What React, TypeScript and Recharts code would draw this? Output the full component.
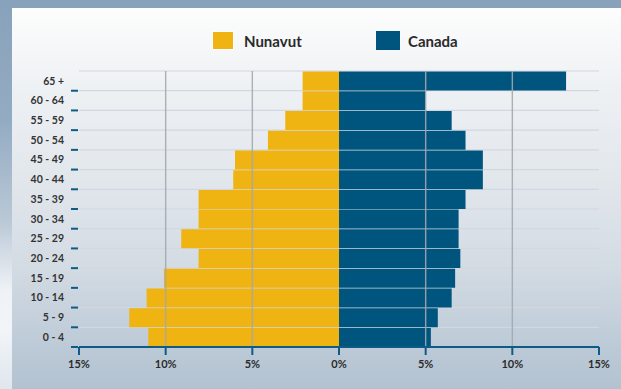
import { BarChart, Bar, XAxis, YAxis, CartesianGrid, ReferenceLine } from "recharts";

const AGE_GROUPS = [
  "65 +",
  "60 - 64",
  "55 - 59",
  "50 - 54",
  "45 - 49",
  "40 - 44",
  "35 - 39",
  "30 - 34",
  "25 - 29",
  "20 - 24",
  "15 - 19",
  "10 - 14",
  "5 - 9",
  "0 - 4",
];
// share of population, %
const NUNAVUT = [2.1, 2.1, 3.1, 4.1, 6.0, 6.1, 8.1, 8.1, 9.1, 8.1, 10.1, 11.1, 12.1, 11.0];
const CANADA = [13.1, 5.0, 6.5, 7.3, 8.3, 8.3, 7.3, 6.9, 6.9, 7.0, 6.7, 6.5, 5.7, 5.3];
const X_TICKS = [-15, -10, -5, 0, 5, 10, 15];
const GRID_X = [-10, -5, 5, 10];

const YELLOW = "#efb312";
const BLUE = "#00557f";
const AXIS_BLUE = "#0d5b86";
const FONT = "Lato, 'Open Sans', sans-serif";

const data = AGE_GROUPS.map((age, i) => ({
  age,
  nunavut: -NUNAVUT[i],
  canada: CANADA[i],
}));

function AgeTick(props: any) {
  const { x, y, payload } = props;
  const half = payload && payload.offset ? payload.offset : 9.85;
  return (
    <g>
      <text
        x={x}
        y={y}
        dy="0.35em"
        textAnchor="end"
        fontSize={10.5}
        fontWeight={700}
        fontFamily={FONT}
        fill="#333333"
      >
        {payload.value}
      </text>
      <line x1={x + 7} x2={x + 14} y1={y + half} y2={y + half} stroke={AXIS_BLUE} strokeWidth={2} />
    </g>
  );
}

// grid lines sit on the band edges, not the band centres
function bandEdges({ offset }: any) {
  const step = offset.height / AGE_GROUPS.length;
  return [...AGE_GROUPS.map((_, i) => offset.top + i * step), offset.top + offset.height];
}

export default function App() {
  return (
    <div
      style={{
        position: "absolute",
        left: 0,
        top: 0,
        width: 621,
        height: 389,
        overflow: "hidden",
        background:
          "linear-gradient(180deg, #88a2bb 0px, #93abc2 120px, #b9c8d6 220px, #eef2f6 290px, #f2f5f8 330px, #dfe6ed 389px)",
      }}
    >
      <div
        style={{
          position: "absolute",
          left: 12,
          top: 8,
          width: 621,
          height: 389,
          background:
            "linear-gradient(180deg, #fdfdfd 0px, #eef1f4 80px, #e2e7ec 170px, #d3dbe3 260px, #bccad7 340px, #b3c2d1 381px)",
        }}
      />
      <div style={{ position: "absolute", left: 212, top: 31, width: 22, height: 19, boxSizing: "border-box", border: "1.5px solid #ffffff", background: YELLOW }} />
      <div
        style={{ position: "absolute", left: 244, top: 31, height: 20, lineHeight: "20px", fontFamily: FONT, fontWeight: 700, fontSize: 15, color: "#2a2a2a" }}
      >
        Nunavut
      </div>
      <div style={{ position: "absolute", left: 376, top: 31, width: 24, height: 19, background: BLUE }} />
      <div
        style={{ position: "absolute", left: 408, top: 31, height: 20, lineHeight: "20px", fontFamily: FONT, fontWeight: 700, fontSize: 15, color: "#2a2a2a" }}
      >
        Canada
      </div>
      <div style={{ position: "absolute", left: 0, top: 0 }}>
        <BarChart
          width={621}
          height={389}
          data={data}
          layout="vertical"
          stackOffset="sign"
          barCategoryGap={0.6}
          margin={{ top: 71, right: 22, bottom: 12, left: 0 }}
        >
          <CartesianGrid
            vertical={false}
            stroke="#d2d8df"
            strokeWidth={1.2}
            horizontalCoordinatesGenerator={bandEdges}
          />
          <XAxis
            type="number"
            domain={[-15, 15]}
            ticks={X_TICKS}
            allowDataOverflow
            height={30}
            tickSize={8}
            tickMargin={5}
            axisLine={{ stroke: AXIS_BLUE, strokeWidth: 2 }}
            tickLine={{ stroke: AXIS_BLUE, strokeWidth: 2 }}
            tickFormatter={(v: number) => `${Math.abs(v)}%`}
            tick={{ fontSize: 11, fontWeight: 700, fontFamily: FONT, fill: "#2b2b2b" }}
          />
          <YAxis
            type="category"
            dataKey="age"
            width={79}
            tickSize={0}
            tickMargin={15}
            axisLine={false}
            tickLine={false}
            interval={0}
            tick={<AgeTick />}
          />
          <Bar dataKey="nunavut" stackId="pop" fill={YELLOW} isAnimationActive={false} />
          <Bar dataKey="canada" stackId="pop" fill={BLUE} isAnimationActive={false} />
          {GRID_X.map((v) => (
            <ReferenceLine key={v} x={v} stroke="#a3a8ae" strokeOpacity={0.9} strokeWidth={1.4} />
          ))}
        </BarChart>
      </div>
    </div>
  );
}
